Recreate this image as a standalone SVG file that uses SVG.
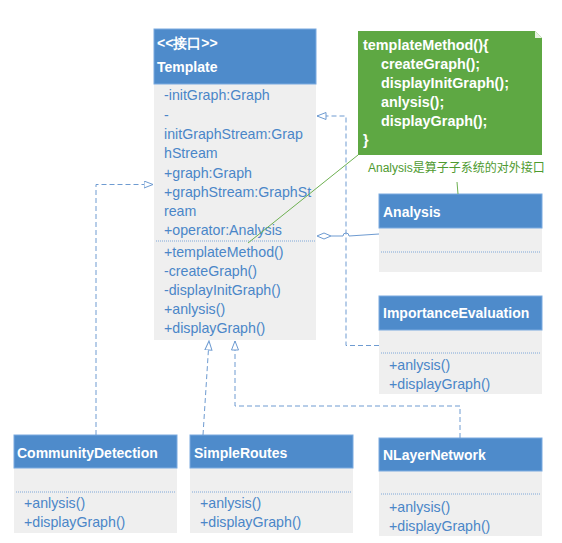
<svg xmlns="http://www.w3.org/2000/svg" width="562" height="543" viewBox="0 0 562 543">
<defs>
<style>
.hdr{fill:#4E8BCB;stroke:#7AAAE0;stroke-width:1}
.body{fill:#EFEFEF}
.ht{font-family:"Liberation Sans",Arial,sans-serif;font-size:14px;font-weight:bold;fill:#FFFFFF}
.bt{font-family:"Liberation Sans",Arial,sans-serif;font-size:14.2px;fill:#4A86C8}
.sep{stroke:#7FA7D8;stroke-width:1;stroke-dasharray:1 1;fill:none}
.dep{stroke:#6E9BD1;stroke-width:1;fill:none;stroke-dasharray:5 3}
.nt{font-family:"Liberation Sans",Arial,sans-serif;font-size:14.4px;font-weight:bold;fill:#FFFFFF}
</style>
<marker id="tri" markerWidth="11" markerHeight="9" refX="9.5" refY="4" orient="auto" markerUnits="userSpaceOnUse">
<path d="M0.5,0.5 L9.5,4 L0.5,7.5 Z" fill="#FFFFFF" stroke="#6E9BD1" stroke-width="1"/>
</marker>
</defs>
<rect width="562" height="543" fill="#FFFFFF"/>

<g id="template">
<rect class="body" x="154" y="84" width="162" height="256"/>
<rect class="hdr" x="154" y="29" width="162" height="55"/>
<text class="ht" x="157" y="48">&lt;&lt;接口&gt;&gt;</text>
<text class="ht" x="157" y="72">Template</text>
<text class="bt" x="164" y="100">-initGraph:Graph</text>
<text class="bt" x="164" y="119.5">-</text>
<text class="bt" x="164" y="139">initGraphStream:Grap</text>
<text class="bt" x="164" y="158">hStream</text>
<text class="bt" x="164" y="178">+graph:Graph</text>
<text class="bt" x="164" y="197">+graphStream:GraphSt</text>
<text class="bt" x="164" y="216">ream</text>
<text class="bt" x="164" y="235">+operator:Analysis</text>
<line class="sep" x1="156" y1="241" x2="315" y2="241"/>
<text class="bt" x="164" y="257">+templateMethod()</text>
<text class="bt" x="164" y="276">-createGraph()</text>
<text class="bt" x="164" y="295">-displayInitGraph()</text>
<text class="bt" x="164" y="314">+anlysis()</text>
<text class="bt" x="164" y="333">+displayGraph()</text>
</g>

<g id="note">
<path d="M358,31 H535 L542,38 V155 H358 Z" fill="#5EA843"/>
<path d="M535,31 V38 H542 Z" fill="#E8F2E2"/>
<text class="nt" x="363" y="50">templateMethod(){</text>
<text class="nt" x="381" y="69">createGraph();</text>
<text class="nt" x="381" y="88">displayInitGraph();</text>
<text class="nt" x="381" y="107">anlysis();</text>
<text class="nt" x="381" y="126">displayGraph();</text>
<text class="nt" x="363" y="145">}</text>
</g>

<g id="annotation">
<text x="368" y="172" font-family="Liberation Sans, Noto Sans CJK SC, sans-serif" font-size="12" fill="#4E9A2F">Analysis是算子子系统的对外接口</text>
</g>

<g id="analysis">
<rect class="body" x="379" y="228" width="163" height="44"/>
<rect class="hdr" x="379" y="194" width="163" height="34"/>
<text class="ht" x="383" y="217">Analysis</text>
<line class="sep" x1="381" y1="252" x2="540" y2="252"/>
</g>

<g id="importance">
<rect class="body" x="379" y="330" width="163" height="64"/>
<rect class="hdr" x="379" y="296" width="163" height="34"/>
<text class="ht" x="383" y="318">ImportanceEvaluation</text>
<line class="sep" x1="381" y1="353" x2="540" y2="353"/>
<text class="bt" x="389" y="370">+anlysis()</text>
<text class="bt" x="389" y="389">+displayGraph()</text>
</g>

<g id="nlayer">
<rect class="body" x="379" y="471" width="163" height="65"/>
<rect class="hdr" x="379" y="438" width="163" height="33"/>
<text class="ht" x="383" y="460">NLayerNetwork</text>
<line class="sep" x1="381" y1="494" x2="540" y2="494"/>
<text class="bt" x="389" y="512">+anlysis()</text>
<text class="bt" x="389" y="531">+displayGraph()</text>
</g>

<g id="community">
<rect class="body" x="14" y="468" width="163" height="65"/>
<rect class="hdr" x="14" y="435" width="163" height="33"/>
<text class="ht" x="17" y="458">CommunityDetection</text>
<line class="sep" x1="16" y1="492" x2="175" y2="492"/>
<text class="bt" x="24" y="508">+anlysis()</text>
<text class="bt" x="24" y="527">+displayGraph()</text>
</g>

<g id="simpleroutes">
<rect class="body" x="190" y="468" width="163" height="65"/>
<rect class="hdr" x="190" y="435" width="163" height="33"/>
<text class="ht" x="194" y="458">SimpleRoutes</text>
<line class="sep" x1="192" y1="492" x2="351" y2="492"/>
<text class="bt" x="200" y="508">+anlysis()</text>
<text class="bt" x="200" y="527">+displayGraph()</text>
</g>

<g id="connectors">
<path class="dep" d="M96,435 V184.5 H153" marker-end="url(#tri)"/>
<path class="dep" d="M203,435 L209,341" marker-end="url(#tri)"/>
<path class="dep" d="M460,438 V406 H235 V341" marker-end="url(#tri)"/>
<path class="dep" d="M379,345.5 H346 V116 H317" marker-end="url(#tri)"/>
<path d="M331,236 H343 A3,3 0 0 1 349,236 L379,234" fill="none" stroke="#6E9BD1" stroke-width="1"/>
<path d="M317,236 L324,233 L331,236 L324,239 Z" fill="#FFFFFF" stroke="#6E9BD1" stroke-width="1"/>
<path d="M358,155 L248,243" fill="none" stroke="#6DB050" stroke-width="1"/>
<path d="M457,182 L458,194" fill="none" stroke="#6DB050" stroke-width="1"/>
</g>
</svg>
